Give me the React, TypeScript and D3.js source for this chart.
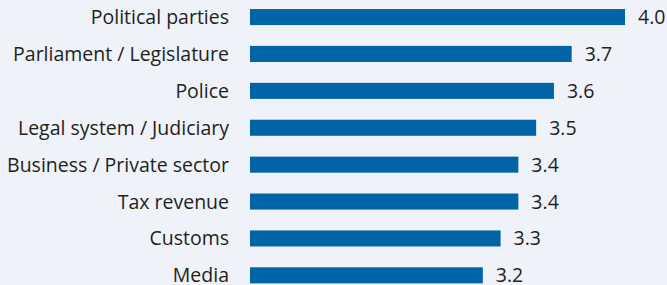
import { useEffect, useRef } from 'react';
import * as d3 from 'd3';

const CATEGORIES = [
  'Political parties',
  'Parliament / Legislature',
  'Police',
  'Legal system / Judiciary',
  'Business / Private sector',
  'Tax revenue',
  'Customs',
  'Media',
];
const VALUES = [4.0, 3.7, 3.6, 3.5, 3.4, 3.4, 3.3, 3.2];

const WIDTH = 667;
const HEIGHT = 285;
const BG = '#eff2f8';
const BAR = '#0064a6';
const TEXT = '#231f20';
const FONT = '"Open Sans", "Noto Sans", sans-serif';

export default function App() {
  const svgRef = useRef<SVGSVGElement>(null);

  useEffect(() => {
    if (!svgRef.current) return;
    const svg = d3.select(svgRef.current);
    svg.selectAll('*').remove();

    // axis does not start at zero in the original
    const x = d3.scaleLinear().domain([1.89, 4.0]).range([250, 625]);
    const y = d3.scaleBand()
      .domain(CATEGORIES)
      .range([0, 292.4])
      .paddingInner(0.565)
      .paddingOuter(0.245);

    svg.append('rect')
      .attr('width', WIDTH)
      .attr('height', HEIGHT)
      .attr('fill', BG);

    const rows = svg.append('g')
      .selectAll('g')
      .data(CATEGORIES)
      .join('g')
      .attr('transform', d => `translate(0,${y(d)})`);

    rows.append('rect')
      .attr('x', x(1.89))
      .attr('width', (_, i) => x(VALUES[i]) - x(1.89))
      .attr('height', y.bandwidth())
      .attr('fill', BAR);

    rows.append('text')
      .attr('x', 229)
      .attr('y', y.bandwidth() / 2)
      .attr('dy', '0.36em')
      .attr('text-anchor', 'end')
      .attr('font-family', FONT)
      .attr('font-size', '19.5px')
      .attr('fill', TEXT)
      .text(d => d);

    rows.append('text')
      .attr('x', (_, i) => x(VALUES[i]) + 13)
      .attr('y', y.bandwidth() / 2)
      .attr('dy', '0.36em')
      .attr('font-family', FONT)
      .attr('font-size', '19.5px')
      .attr('fill', TEXT)
      .text((_, i) => VALUES[i].toFixed(1));
  }, []);

  return (
    <>
      <style>{'body{margin:0;}'}</style>
      <svg ref={svgRef} width={WIDTH} height={HEIGHT} style={{ display: 'block' }} />
    </>
  );
}
